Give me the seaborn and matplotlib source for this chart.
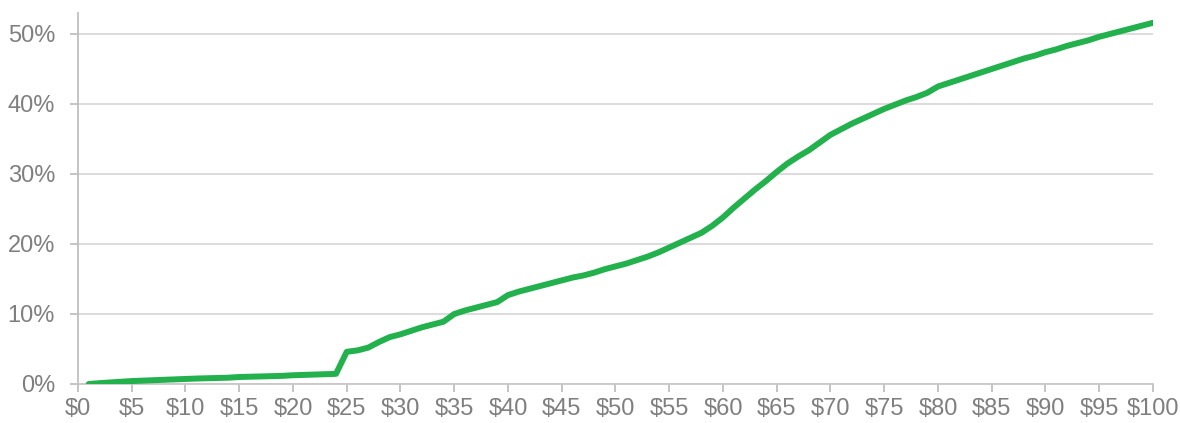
import numpy as np
import pandas as pd
import seaborn as sns
from matplotlib import pyplot as plt
from matplotlib.ticker import FuncFormatter

# price points ($1 .. $100) and cumulative share (%)
prices = list(range(1, 101))
share = [
    0.0, 0.12, 0.22, 0.32, 0.42, 0.48, 0.54, 0.6, 0.66, 0.72,
    0.78, 0.82, 0.86, 0.9, 1.0, 1.04, 1.08, 1.12, 1.16, 1.25,
    1.3, 1.35, 1.4, 1.45, 4.6, 4.8, 5.2, 6.0, 6.7, 7.1,
    7.6, 8.1, 8.5, 8.9, 10.0, 10.5, 10.9, 11.3, 11.7, 12.7,
    13.2, 13.6, 14.0, 14.4, 14.8, 15.2, 15.5, 15.9, 16.4, 16.8,
    17.2, 17.7, 18.2, 18.8, 19.5, 20.2, 20.9, 21.6, 22.6, 23.8,
    25.2, 26.5, 27.8, 29.0, 30.3, 31.5, 32.5, 33.4, 34.5, 35.6,
    36.4, 37.2, 37.9, 38.6, 39.3, 39.9, 40.5, 41.0, 41.6, 42.5,
    43.0, 43.5, 44.0, 44.5, 45.0, 45.5, 46.0, 46.5, 46.9, 47.4,
    47.8, 48.3, 48.7, 49.1, 49.6, 50.0, 50.4, 50.8, 51.2, 51.6,
]
x_ticks = list(range(0, 101, 5))
y_ticks = list(range(0, 51, 10))

df = pd.DataFrame({"price": prices, "share": share})

sns.set_style("white")
plt.rcParams["font.family"] = ["Liberation Sans", "DejaVu Sans"]

fig = plt.figure(figsize=(11.8, 4.23), dpi=100)
ax = fig.add_axes([0.0661, 0.0922, 0.911, 0.8771])

sns.lineplot(data=df, x="price", y="share", color="#22b14c", linewidth=4.3,
             solid_capstyle="round", ax=ax, zorder=3)

ax.set_xlim(0, 100)
ax.set_ylim(0, 53)
ax.set_xticks(x_ticks)
ax.set_yticks(y_ticks)
ax.xaxis.set_major_formatter(FuncFormatter(lambda v, p: f"${v:.0f}"))
ax.yaxis.set_major_formatter(FuncFormatter(lambda v, p: f"{v:.0f}%"))
ax.grid(axis="y", color="#d9d9d9", linewidth=1.3)
ax.set_axisbelow(True)
ax.set_xlabel("")
ax.set_ylabel("")

for s in ["top", "right"]:
    ax.spines[s].set_visible(False)
ax.spines["left"].set_color("#bfbfbf")
ax.spines["left"].set_linewidth(1.3)
ax.spines["bottom"].set_color("#c8c8c8")
ax.spines["bottom"].set_linewidth(1.3)

ax.tick_params(axis="both", colors="#bfbfbf", labelcolor="#7f7f7f",
               labelsize=17, width=1.3, direction="out",
               bottom=True, left=True)
ax.tick_params(axis="y", length=5.5, pad=11)
ax.tick_params(axis="x", length=6, pad=4)

fig.savefig("out.png", dpi=100)
